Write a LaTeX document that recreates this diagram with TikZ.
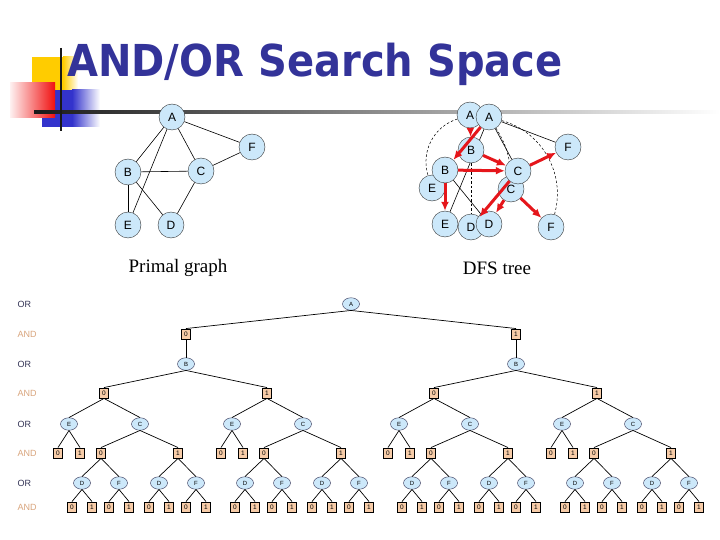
\documentclass[tikz,border=0pt]{standalone}
\usepackage{fontspec}
\setmainfont{Liberation Sans}
\newfontfamily\titlefont{DejaVu Sans}
\newfontfamily\capfont{Liberation Serif}
\usepackage{graphicx}
\usetikzlibrary{arrows.meta,positioning,shapes.geometric,backgrounds}
\definecolor{TitleNavy}{HTML}{333399}
\definecolor{NodeSky}{HTML}{CCE8FA}
\definecolor{AndPeach}{HTML}{F7CCA8}
\definecolor{OrInk}{HTML}{333355}
\definecolor{AndTan}{HTML}{D8A47C}
\definecolor{DfsRed}{HTML}{E5161B}
\definecolor{DecoYellow}{HTML}{FFCC00}
\definecolor{DecoRed}{HTML}{F01010}
\definecolor{DecoBlue}{HTML}{3333CC}

\begin{document}
\begin{tikzpicture}[x=1pt,y=-1pt,
    vert/.style={circle,draw=black!80,fill=NodeSky,minimum size=26pt,inner sep=0pt,font=\fontsize{12}{12}\selectfont},
    ornode/.style={ellipse,draw=OrInk,fill=NodeSky,minimum width=17pt,minimum height=12.5pt,inner sep=0pt,font=\fontsize{6}{6}\selectfont},
    andnode/.style={rectangle,draw=black,fill=AndPeach,minimum width=9pt,minimum height=10.5pt,inner sep=0pt,font=\fontsize{6.5}{6.5}\selectfont},
    orlabel/.style={anchor=west,text=OrInk,font=\fontsize{9}{9}\selectfont},
    andlabel/.style={anchor=west,text=AndTan,font=\fontsize{9}{9}\selectfont},
    gedge/.style={black,line width=0.6pt},
    backedge/.style={black,line width=0.5pt,dash pattern=on 2.5pt off 2pt},
    tarr/.style={-{Latex[length=9pt,width=8pt]},line width=3pt,DfsRed},
    treeedge/.style={black,line width=0.7pt}
  ]
  \useasboundingbox (0,0) rectangle (720,540);
  % slide decoration
  \fill[DecoYellow] (32,57) rectangle (63,90);
  \shade[left color=DecoYellow,right color=white] (63,57) rectangle (78,90);
  \fill[DecoBlue] (42,90) rectangle (72,127);
  \shade[left color=DecoBlue,right color=white] (72,90) rectangle (100,127);
  \shade[left color=DecoRed!6,right color=DecoRed] (10,83) rectangle (55,118);
  \shade[left color=black!90,right color=white] (34,110.5) rectangle (720,113.5);
  \draw[line width=2pt,black!90] (61,48) -- (61,131);
  \node[anchor=base,text=TitleNavy] (title) at (315,77) {\titlefont\bfseries\fontsize{44}{44}\selectfont\scalebox{0.91}[1]{AND/OR Search Space}};

  % primal graph
  \node[vert] (pA) at (172,117) {A};
  \node[vert] (pF) at (252,147) {F};
  \node[vert] (pB) at (128,172) {B};
  \node[vert] (pC) at (201,171) {C};
  \node[vert] (pE) at (128,225) {E};
  \node[vert] (pD) at (171,225) {D};
  \foreach \u/\v in {pA/pB,pA/pE,pA/pC,pA/pF,pF/pC,pB/pC,pB/pE,pB/pD,pC/pD}
    \draw[gedge] (\u) -- (\v);
  \node[font=\capfont\fontsize{19}{19}\selectfont] (pcap) at (178,268) {Primal graph};

  % DFS tree
  \node[vert] (dA1) at (470,115) {A};
  \node[vert] (dA2) at (489,117) {A};
  \node[vert] (dB1) at (471,150) {B};
  \node[vert] (dE1) at (432,188) {E};
  \node[vert] (dB2) at (445,170) {B};
  \node[vert] (dC2) at (511,189) {C};
  \node[vert] (dC1) at (518,171) {C};
  \node[vert] (dF1) at (568,147) {F};
  \node[vert] (dE2) at (445,224) {E};
  \node[vert] (dD1) at (471,227) {D};
  \node[vert] (dD2) at (489,224) {D};
  \node[vert] (dF2) at (551,227) {F};
  \begin{scope}[on background layer]
    \draw[backedge] (dA1) to[bend right=45] (dE1);
    \draw[backedge] (dB1) -- (dD1);
    \draw[backedge] (dA2) to[bend left=15] (dC2);
    \draw[backedge] (dA2) to[bend left=45] (dF2);
    \draw[gedge] (dA2) -- (dF1);
    \draw[gedge] (dA2) -- (dE2);
    \draw[gedge] (dA2) -- (dC1);
    \draw[gedge] (dB2) -- (dD2);
  \end{scope}
  \foreach \u/\v in {dA1/dB1,dA2/dB2,dB1/dC1,dB2/dC1,dB2/dE2,dC1/dF1,dC1/dD1,dC2/dD2,dC2/dF2}
    \draw[tarr] (\u) -- (\v);
  \node[font=\capfont\fontsize{19}{19}\selectfont] (dcap) at (497,268) {DFS tree};

  % level labels
  \foreach \ly/\lt/\ls [count=\li] in {304/OR/orlabel,334/AND/andlabel,364/OR/orlabel,393/AND/andlabel,424/OR/orlabel,453/AND/andlabel,483/OR/orlabel,507/AND/andlabel}
    \node[\ls] (lvl\li) at (14,\ly) {\lt};

  % AND/OR search tree
  \node[ornode] (tA) at (351,304) {A};
  \foreach \ia/\ax in {0/186,1/516}{
    \node[andnode] (t\ia) at (\ax,334) {\ia};
    \node[ornode] (t\ia B) at (\ax,364) {B};
    \draw[treeedge] (tA.south) -- (t\ia.north);
    \draw[treeedge] (t\ia.south) -- (t\ia B.north);
    \foreach \ib/\bdx in {0/-82,1/81}{
      \pgfmathsetmacro\bx{\ax+\bdx}
      \pgfmathsetmacro\ex{\bx-35}
      \pgfmathsetmacro\gx{\bx+36}
      \node[andnode] (t\ia\ib) at (\bx,393) {\ib};
      \draw[treeedge] (t\ia B.south) -- (t\ia\ib.north);
      \node[ornode] (t\ia\ib E) at (\ex,424) {E};
      \node[ornode] (t\ia\ib C) at (\gx,424) {C};
      \draw[treeedge] (t\ia\ib.south) -- (t\ia\ib E.north);
      \draw[treeedge] (t\ia\ib.south) -- (t\ia\ib C.north);
      \foreach \ie in {0,1}{
        \pgfmathsetmacro\ix{\ex-11+22*\ie}
        \node[andnode] (t\ia\ib E\ie) at (\ix,453) {\ie};
        \draw[treeedge] (t\ia\ib E.south) -- (t\ia\ib E\ie.north);
      }
      \foreach \ic/\cdx in {0/-39,1/38}{
        \pgfmathsetmacro\cx{\gx+\cdx}
        \node[andnode] (t\ia\ib C\ic) at (\cx,453) {\ic};
        \draw[treeedge] (t\ia\ib C.south) -- (t\ia\ib C\ic.north);
        \foreach \iv/\vdx in {D/-19,F/18}{
          \pgfmathsetmacro\vx{\cx+\vdx}
          \node[ornode] (t\ia\ib C\ic\iv) at (\vx,483) {\iv};
          \draw[treeedge] (t\ia\ib C\ic.south) -- (t\ia\ib C\ic\iv.north);
          \foreach \iw in {0,1}{
            \pgfmathsetmacro\wx{\vx-10+20*\iw}
            \node[andnode] (t\ia\ib C\ic\iv\iw) at (\wx,507) {\iw};
            \draw[treeedge] (t\ia\ib C\ic\iv.south) -- (t\ia\ib C\ic\iv\iw.north);
          }
        }
      }
    }
  }
\end{tikzpicture}
\end{document}
